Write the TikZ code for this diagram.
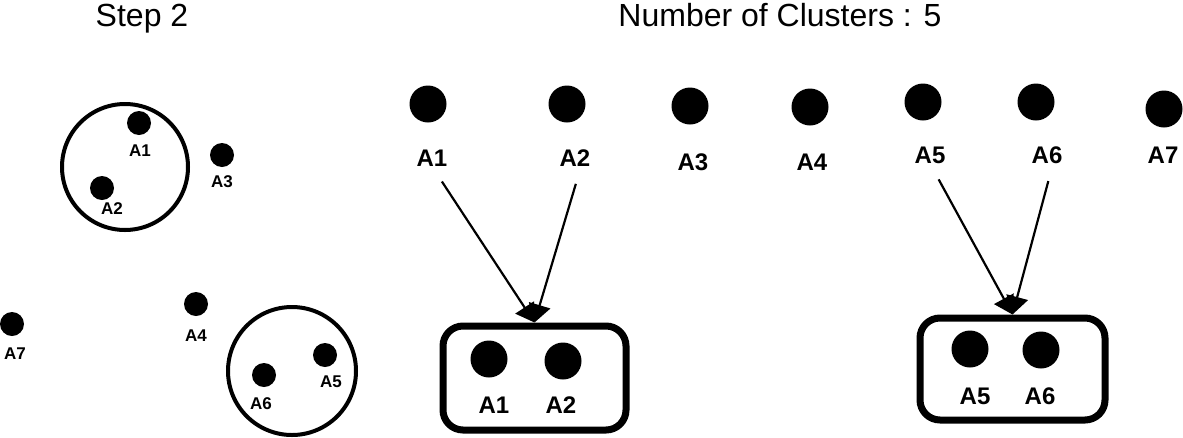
\documentclass[tikz,border=0pt]{standalone}
\usepackage{fontspec}
\setmainfont{Liberation Sans}
\usetikzlibrary{arrows.meta, positioning}
\tikzstyle{arrow} = [line width=2.2pt, -{Triangle[length=18pt, width=22pt]}]
\tikzstyle{bigdot} = [circle, fill=black, inner sep=0pt, minimum size=37pt]
\tikzstyle{smalldot} = [circle, fill=black, inner sep=0pt, minimum size=24pt]
\tikzstyle{biglbl} = [inner sep=0pt, font=\fontsize{24}{28}\selectfont\bfseries]
\tikzstyle{smalllbl} = [inner sep=0pt, font=\fontsize{17}{20}\selectfont\bfseries]
\tikzstyle{cluster} = [draw, circle, line width=4pt, inner sep=0pt]
\tikzstyle{clusterbox} = [draw, rectangle, rounded corners=20pt, line width=7pt, inner sep=0pt]

\begin{document}
\begin{tikzpicture}[x=1pt, y=-1pt]
    \useasboundingbox (0,0) rectangle (1183,437);
    \node[anchor=base, font=\fontsize{32}{36}\selectfont] (title1) at (142,26) {Step 2};
    \node[anchor=base, font=\fontsize{32}{36}\selectfont] (title2) at (780,26) {Number of Clusters : 5};
    % left panel
    \node[cluster, minimum size=126pt] (c1) at (125,167) {};
    \node[cluster, minimum size=128pt] (c2) at (292,371) {};
    \foreach \n/\x/\y/\lx/\ly in {1/139/123/140/151, 2/102/188/112/209, 3/222/155/222/182,
                                  4/196/304/196/336, 5/325/355/331/382, 6/264/375/261/404,
                                  7/12/324/15/354}
      {
      \node[smalldot] (p\n) at (\x,\y) {};
      \node[smalllbl] (q\n) at (\lx,\ly) {A\n};
      }
    % top row
    \foreach \n/\x/\y/\lx/\ly in {1/428/104/432/158, 2/567/104/575/158, 3/690/106/693/162,
                                  4/810/107/812/162, 5/923/102/930/155, 6/1036/102/1047/155,
                                  7/1164/109/1163/155}
      {
      \node[bigdot] (d\n) at (\x,\y) {};
      \node[biglbl] (t\n) at (\lx,\ly) {A\n};
      }
    % merged clusters
    \node[clusterbox, minimum width=183pt, minimum height=104pt] (box1) at (534.5,378) {};
    \node[clusterbox, minimum width=185pt, minimum height=102pt] (box2) at (1012.5,369) {};
    \foreach \n/\x/\y/\lx/\ly in {1/489/359/494/405, 2/563/361/561/405,
                                  5/970/349/975/396, 6/1041/350/1040/396}
      {
      \node[bigdot] (m\n) at (\x,\y) {};
      \node[biglbl] (k\n) at (\lx,\ly) {A\n};
      }
    \draw[arrow, shorten <=18pt] (t1.south) -- (box1.north);
    \draw[arrow, shorten <=18pt] ([xshift=6pt]t2.south) -- (box1.north);
    \draw[arrow, shorten <=18pt] (t5.south) -- (box2.north);
    \draw[arrow, shorten <=18pt] ([xshift=6pt]t6.south) -- (box2.north);
  \end{tikzpicture}
\end{document}
